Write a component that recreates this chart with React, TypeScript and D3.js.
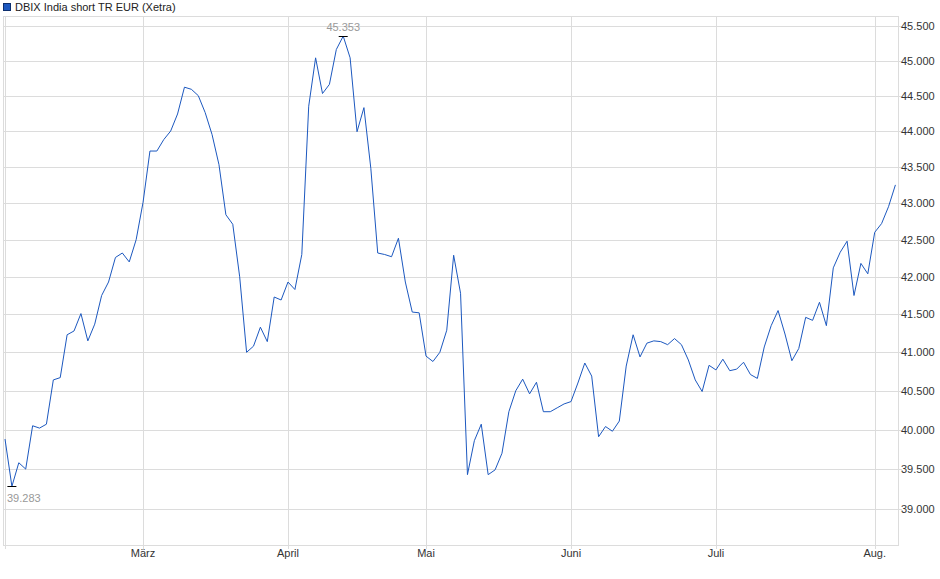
import * as React from 'react';
import * as d3 from 'd3';

const chartTitle = 'DBIX India short TR EUR (Xetra)';

// one value per Xetra trading day, Feb 3 .. Aug 6
const closeValues = [
    39.88, 39.283, 39.58, 39.50, 40.05, 40.02, 40.07, 40.64, 40.67, 41.23,
    41.28, 41.51, 41.15, 41.37, 41.75, 41.93, 42.26, 42.32, 42.20, 42.50,
    43.01, 43.72, 43.72, 43.88, 44.00, 44.24, 44.62, 44.59, 44.50, 44.26,
    43.95, 43.53, 42.84, 42.71, 42.00, 41.00, 41.08, 41.33, 41.14, 41.73,
    41.69, 41.93, 41.83, 42.30, 44.35, 45.04, 44.53, 44.66, 45.16, 45.353,
    45.04, 43.99, 44.33, 43.48, 42.32, 42.30, 42.27, 42.52, 41.93, 41.53,
    41.52, 40.95, 40.88, 41.00, 41.29, 42.29, 41.78, 39.43, 39.86, 40.07,
    39.43, 39.49, 39.70, 40.23, 40.50, 40.65, 40.46, 40.61, 40.23, 40.23,
    40.28, 40.33, 40.36, 40.60, 40.86, 40.69, 39.91, 40.04, 39.98, 40.11,
    40.82, 41.23, 40.94, 41.12, 41.15, 41.14, 41.10, 41.18, 41.10, 40.90,
    40.64, 40.49, 40.83, 40.77, 40.91, 40.76, 40.78, 40.87, 40.71, 40.66,
    41.07, 41.35, 41.55, 41.24, 40.89, 41.05, 41.46, 41.42, 41.66, 41.35,
    42.12, 42.33, 42.48, 41.75, 42.18, 42.04, 42.60, 42.72, 42.95, 43.25
];

// index of the first trading day of each month
const monthStarts = [0, 20, 41, 61, 82, 103, 126];
const monthLabels = ['', 'März', 'April', 'Mai', 'Juni', 'Juli', 'Aug.'];

const yTicks = [39, 39.5, 40, 40.5, 41, 41.5, 42, 42.5, 43, 43.5, 44, 44.5, 45, 45.5];

const frame = { left: 3, right: 898, top: 16, bottom: 545 };
const lineColor = '#1c58bf';
const gridColor = '#dcdcdc';
const fontFamily = '"Liberation Sans", Arial, sans-serif';

const fmt = d3.format('.3f');

class PriceChart extends React.Component<{}, object> {
    private node: SVGSVGElement | null = null;

    render() {
        return <svg
            ref={node => this.node = node}
            width={940}
            height={579}
            style={{ position: 'absolute', left: 0, top: 0, background: '#fff' }}>
        </svg>;
    }

    componentDidMount() {
        this.draw();
    }

    private draw() {
        const svg = d3.select(this.node);
        svg.selectAll('*').remove();

        const xScale = d3.scaleLinear().domain([0, 126]).range([5, 874.7]);
        const yScale = d3.scaleLog().domain([39, 45.5]).range([509, 26]);

        // legend / title
        svg.append('rect')
            .attr('x', 3.5).attr('y', 3.5).attr('width', 7).attr('height', 7)
            .attr('fill', lineColor).attr('stroke', '#0d2f6e');
        svg.append('text')
            .attr('x', 15).attr('y', 11)
            .attr('font-family', fontFamily).attr('font-size', 11)
            .attr('fill', '#222')
            .text(chartTitle);

        // horizontal grid
        svg.append('g').selectAll('line')
            .data(yTicks)
            .join('line')
            .attr('x1', frame.left).attr('x2', frame.right + 4)
            .attr('y1', d => Math.round(yScale(d)) + 0.5)
            .attr('y2', d => Math.round(yScale(d)) + 0.5)
            .attr('stroke', gridColor);

        // vertical grid at month starts
        svg.append('g').selectAll('line')
            .data(monthStarts)
            .join('line')
            .attr('x1', d => Math.round(xScale(d)) + 0.5)
            .attr('x2', d => Math.round(xScale(d)) + 0.5)
            .attr('y1', frame.top).attr('y2', frame.bottom + 4)
            .attr('stroke', gridColor);

        // frame
        svg.append('rect')
            .attr('x', frame.left + 0.5).attr('y', frame.top + 0.5)
            .attr('width', frame.right - frame.left).attr('height', frame.bottom - frame.top)
            .attr('fill', 'none').attr('stroke', gridColor);

        // y labels on the right
        svg.append('g').selectAll('text')
            .data(yTicks)
            .join('text')
            .attr('x', 901).attr('y', d => yScale(d) + 4)
            .attr('font-family', fontFamily).attr('font-size', 11)
            .attr('fill', '#333')
            .text(d => fmt(d));

        // month labels
        svg.append('g').selectAll('text')
            .data(monthStarts.map((m, i) => ({ m, label: monthLabels[i] })))
            .join('text')
            .attr('x', d => xScale(d.m)).attr('y', 557)
            .attr('text-anchor', 'middle')
            .attr('font-family', fontFamily).attr('font-size', 11)
            .attr('fill', '#333')
            .text(d => d.label);

        // price line
        svg.append('path')
            .datum(closeValues)
            .attr('fill', 'none')
            .attr('stroke', lineColor)
            .attr('stroke-width', 1)
            .attr('d', d3.line<number>()
                .x((_, i) => xScale(i))
                .y(d => yScale(d)));

        // min / max markers
        const minIdx = d3.minIndex(closeValues);
        const maxIdx = d3.maxIndex(closeValues);
        const markers = [
            { i: minIdx, dy: 15 },
            { i: maxIdx, dy: -6 }
        ];
        markers.forEach(mk => {
            const x = xScale(mk.i);
            const y = Math.round(yScale(closeValues[mk.i])) + 0.5;
            svg.append('line')
                .attr('x1', x - 4.5).attr('x2', x + 4.5)
                .attr('y1', y).attr('y2', y)
                .attr('stroke', '#000');
            const label = svg.append('text')
                .attr('y', y + mk.dy)
                .attr('font-family', fontFamily).attr('font-size', 11)
                .attr('fill', '#999')
                .text(fmt(closeValues[mk.i]));
            if (mk.i === minIdx) {
                label.attr('x', 7);
            } else {
                label.attr('x', x).attr('text-anchor', 'middle');
            }
        });
    }
}

export default function App() {
    return <PriceChart />;
}
